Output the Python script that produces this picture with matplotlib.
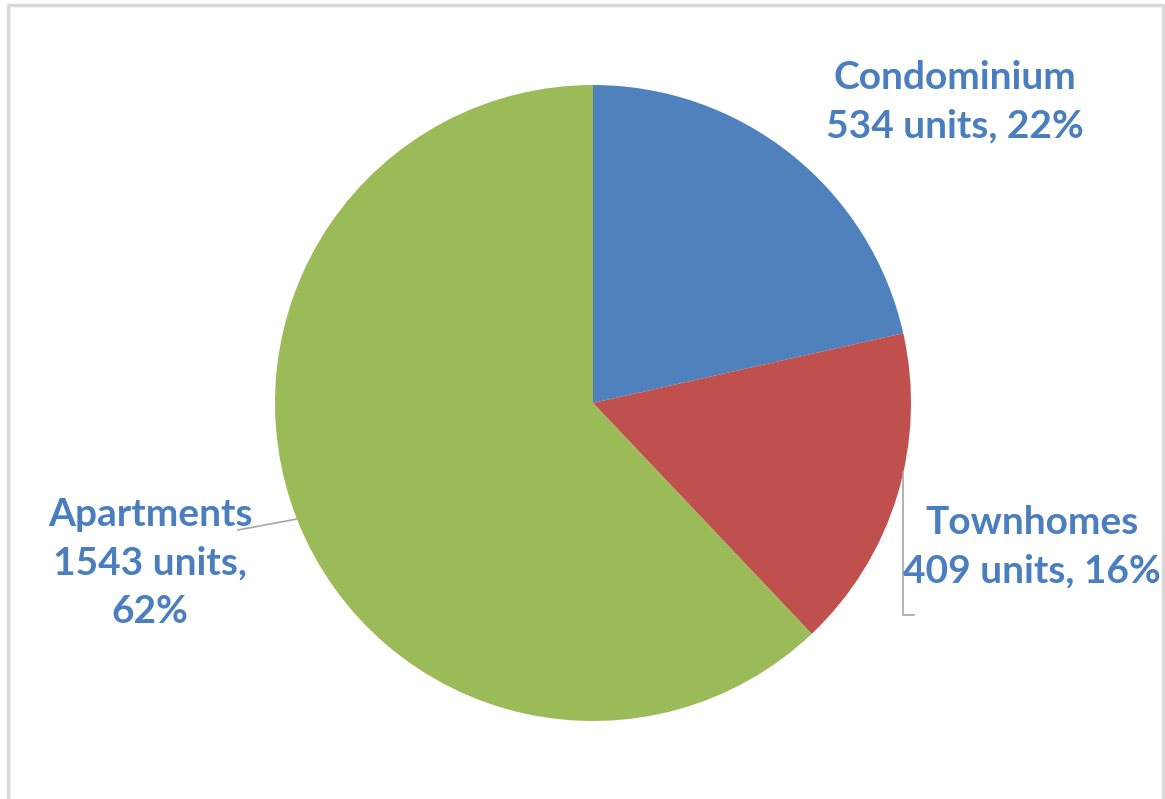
import matplotlib.pyplot as plt

# housing stock by type
categories = ["Condominium", "Townhomes", "Apartments"]
units = [534, 409, 1543]
pcts = [22, 16, 62]
colors = ["#4F81BD", "#C0504D", "#9BBB59"]

W, H = 1165, 799
fig = plt.figure(figsize=(W / 100, H / 100), dpi=100)
ax = fig.add_axes([0, 0, 1, 1])

# pixel coordinates with y flipped so the pie still runs clockwise
cx, cy, r = 593, H - 403, 318
ax.pie(units, colors=colors, startangle=90, counterclock=False,
       center=(cx, cy), radius=r, wedgeprops=dict(linewidth=0))
ax.set_xlim(0, W)
ax.set_ylim(0, H)
ax.set_aspect("equal")
ax.axis("off")

# chart border (bottom edge falls outside the image)
ax.plot([8, 8, 1163, 1163], [0, H - 5, H - 5, 0], color="#d9d9d9", linewidth=2.5)

txt = dict(color="#4A7EBF", fontsize=28, fontweight="bold", family="Lato",
           ha="center", va="center", linespacing=1.45)

ax.text(955, H - 102, f"{categories[0]}\n{units[0]} units, {pcts[0]}%", **txt)
ax.text(1032, H - 547, f"{categories[1]}\n{units[1]} units, {pcts[1]}%", **txt)
ax.text(150, H - 563, f"{categories[2]}\n{units[2]} units,\n{pcts[2]}%", **txt)

# leader lines
lc = dict(color="#a6a6a6", linewidth=1.2)
ax.plot([903, 903, 914], [H - 472, H - 615, H - 615], **lc)
ax.plot([238, 297], [H - 530, H - 519], **lc)

fig.savefig("out.png", dpi=100)
